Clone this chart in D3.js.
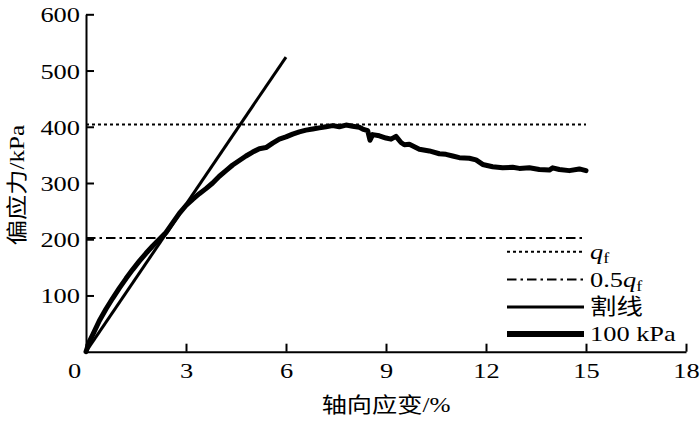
<!DOCTYPE html>
<html>
<head>
<meta charset="utf-8">
<script src="https://cdn.jsdelivr.net/npm/d3@7"></script>
<style>
  html, body { margin: 0; padding: 0; background: #fff; }
  svg { display: block; }
  text { font-family: "Liberation Serif", "Noto Sans CJK SC", serif; fill: #000; }
</style>
</head>
<body>
<div id="chart"></div>
<script>
// strain (%) and deviator stress (kPa)
const strain = [0, 0.1, 0.2, 0.4, 0.6, 0.8, 1.0, 1.2, 1.4, 1.6, 1.8, 2.0, 2.2, 2.4, 2.6, 2.8,
  3.0, 3.2, 3.4, 3.6, 3.8, 4.0, 4.2, 4.4, 4.6, 4.8, 5.0, 5.2, 5.4, 5.6, 5.8, 6.0,
  6.2, 6.4, 6.6, 6.8, 7.0, 7.2, 7.4, 7.6, 7.8, 8.0, 8.2, 8.3, 8.45, 8.52, 8.6, 8.8,
  9.0, 9.15, 9.3, 9.45, 9.55, 9.7, 10.0, 10.3, 10.6, 10.8, 11.0, 11.2, 11.5, 11.7,
  11.9, 12.2, 12.5, 12.8, 13.0, 13.3, 13.6, 13.9, 14.0, 14.2, 14.5, 14.8, 15.0];
const stress = [0, 18, 30, 55, 76, 95, 113, 130, 146, 161, 175, 188, 200, 212, 229, 246,
  260, 271, 281, 290, 300, 312, 322, 332, 340, 348, 355, 361, 363, 371, 378, 382,
  387, 391, 394, 396, 398, 400, 402, 400, 403, 401, 399, 396, 393, 376, 386, 384,
  380, 378, 383, 372, 368, 369, 360, 357, 352, 351, 348, 345, 344, 341,
  333, 329, 327, 328, 326, 327, 324, 323, 327, 324, 322, 325, 322];

// secant line end points
const secantStrain = [0, 6];
const secantStress = [0, 524];

// reference levels
const qf = 404;
const halfQf = 202;
const levelEnd = 15;

const xTicks = [0, 3, 6, 9, 12, 15, 18];
const yTicks = [100, 200, 300, 400, 500, 600];

const width = 700, height = 423;
const margin = { left: 86, right: 14, top: 14.3, bottom: 71.3 };

const svg = d3.select("#chart").append("svg")
    .attr("width", width)
    .attr("height", height);

const x = d3.scaleLinear().domain([0, 18]).range([margin.left, width - margin.right]);
const y = d3.scaleLinear().domain([0, 600]).range([height - margin.bottom, margin.top]);

// stretch text a bit horizontally like the original scan
const stretch = 1.2;

// axes
const xAxis = svg.append("g")
    .attr("transform", `translate(0,${y(0)})`)
    .call(d3.axisBottom(x).tickValues(xTicks).tickSizeInner(-8).tickSizeOuter(0).tickPadding(0));
const yAxis = svg.append("g")
    .attr("transform", `translate(${x(0)},0)`)
    .call(d3.axisLeft(y).tickValues(yTicks).tickSizeInner(-8).tickSizeOuter(0).tickPadding(0));

[xAxis, yAxis].forEach(g => {
  g.select(".domain").attr("stroke", "#000").attr("stroke-width", 2);
  g.selectAll(".tick line").attr("stroke", "#000").attr("stroke-width", 2);
  g.selectAll(".tick text").attr("font-size", 22).attr("font-family", null).attr("fill", "#000");
});

xAxis.selectAll(".tick text")
    .attr("y", 0).attr("dy", null)
    .attr("transform", d => `translate(${d === 0 ? -12 : 0},26) scale(${stretch},1)`);
yAxis.selectAll(".tick text")
    .attr("x", 0).attr("dy", "0.34em")
    .attr("transform", `translate(-6,0) scale(${stretch},1)`);

// axis titles
svg.append("text")
    .attr("transform", `translate(${(x(0) + x(18)) / 2},412) scale(${stretch},1)`)
    .attr("text-anchor", "middle")
    .attr("font-size", 21)
    .text("轴向应变/%");

svg.append("text")
    .attr("transform", `translate(24,185) rotate(-90) scale(${stretch},1)`)
    .attr("text-anchor", "middle")
    .attr("font-size", 21)
    .text("偏应力/kPa");

// reference lines
svg.append("line")
    .attr("x1", x(0)).attr("x2", x(levelEnd))
    .attr("y1", y(qf)).attr("y2", y(qf))
    .attr("stroke", "#000").attr("stroke-width", 2)
    .attr("stroke-dasharray", "3,3");

svg.append("line")
    .attr("x1", x(0)).attr("x2", x(levelEnd))
    .attr("y1", y(halfQf)).attr("y2", y(halfQf))
    .attr("stroke", "#000").attr("stroke-width", 2)
    .attr("stroke-dasharray", "9.5,4,2.5,4");

// secant
svg.append("line")
    .attr("x1", x(secantStrain[0])).attr("y1", y(secantStress[0]))
    .attr("x2", x(secantStrain[1])).attr("y2", y(secantStress[1]))
    .attr("stroke", "#000").attr("stroke-width", 3);

// stress-strain curve
const line = d3.line()
    .x((d, i) => x(strain[i]))
    .y(d => y(d));

svg.append("path")
    .datum(stress)
    .attr("d", line)
    .attr("fill", "none")
    .attr("stroke", "#000")
    .attr("stroke-width", 5)
    .attr("stroke-linejoin", "round")
    .attr("stroke-linecap", "round");

// legend
const legendItems = [
  { label: "qf", dash: "3,3", w: 2, y: 251.7 },
  { label: "0.5qf", dash: "9.5,4,2.5,4", w: 2, y: 279.5 },
  { label: "割线", dash: null, w: 3, y: 307 },
  { label: "100 kPa", dash: null, w: 6, y: 334 }
];

const legend = svg.append("g");
legendItems.forEach(item => {
  legend.append("line")
      .attr("x1", 507).attr("x2", 584)
      .attr("y1", item.y).attr("y2", item.y)
      .attr("stroke", "#000")
      .attr("stroke-width", item.w)
      .attr("stroke-dasharray", item.dash);

  const t = legend.append("text")
      .attr("transform", `translate(590,${item.y + 7}) scale(${stretch},1)`)
      .attr("font-size", 22);
  if (item.label.endsWith("qf")) {
    t.append("tspan").text(item.label.slice(0, -2));
    t.append("tspan").attr("font-style", "italic").text("q");
    t.append("tspan").attr("font-size", 15).attr("dy", 4).text("f");
  } else {
    t.text(item.label);
  }
});
</script>
</body>
</html>
